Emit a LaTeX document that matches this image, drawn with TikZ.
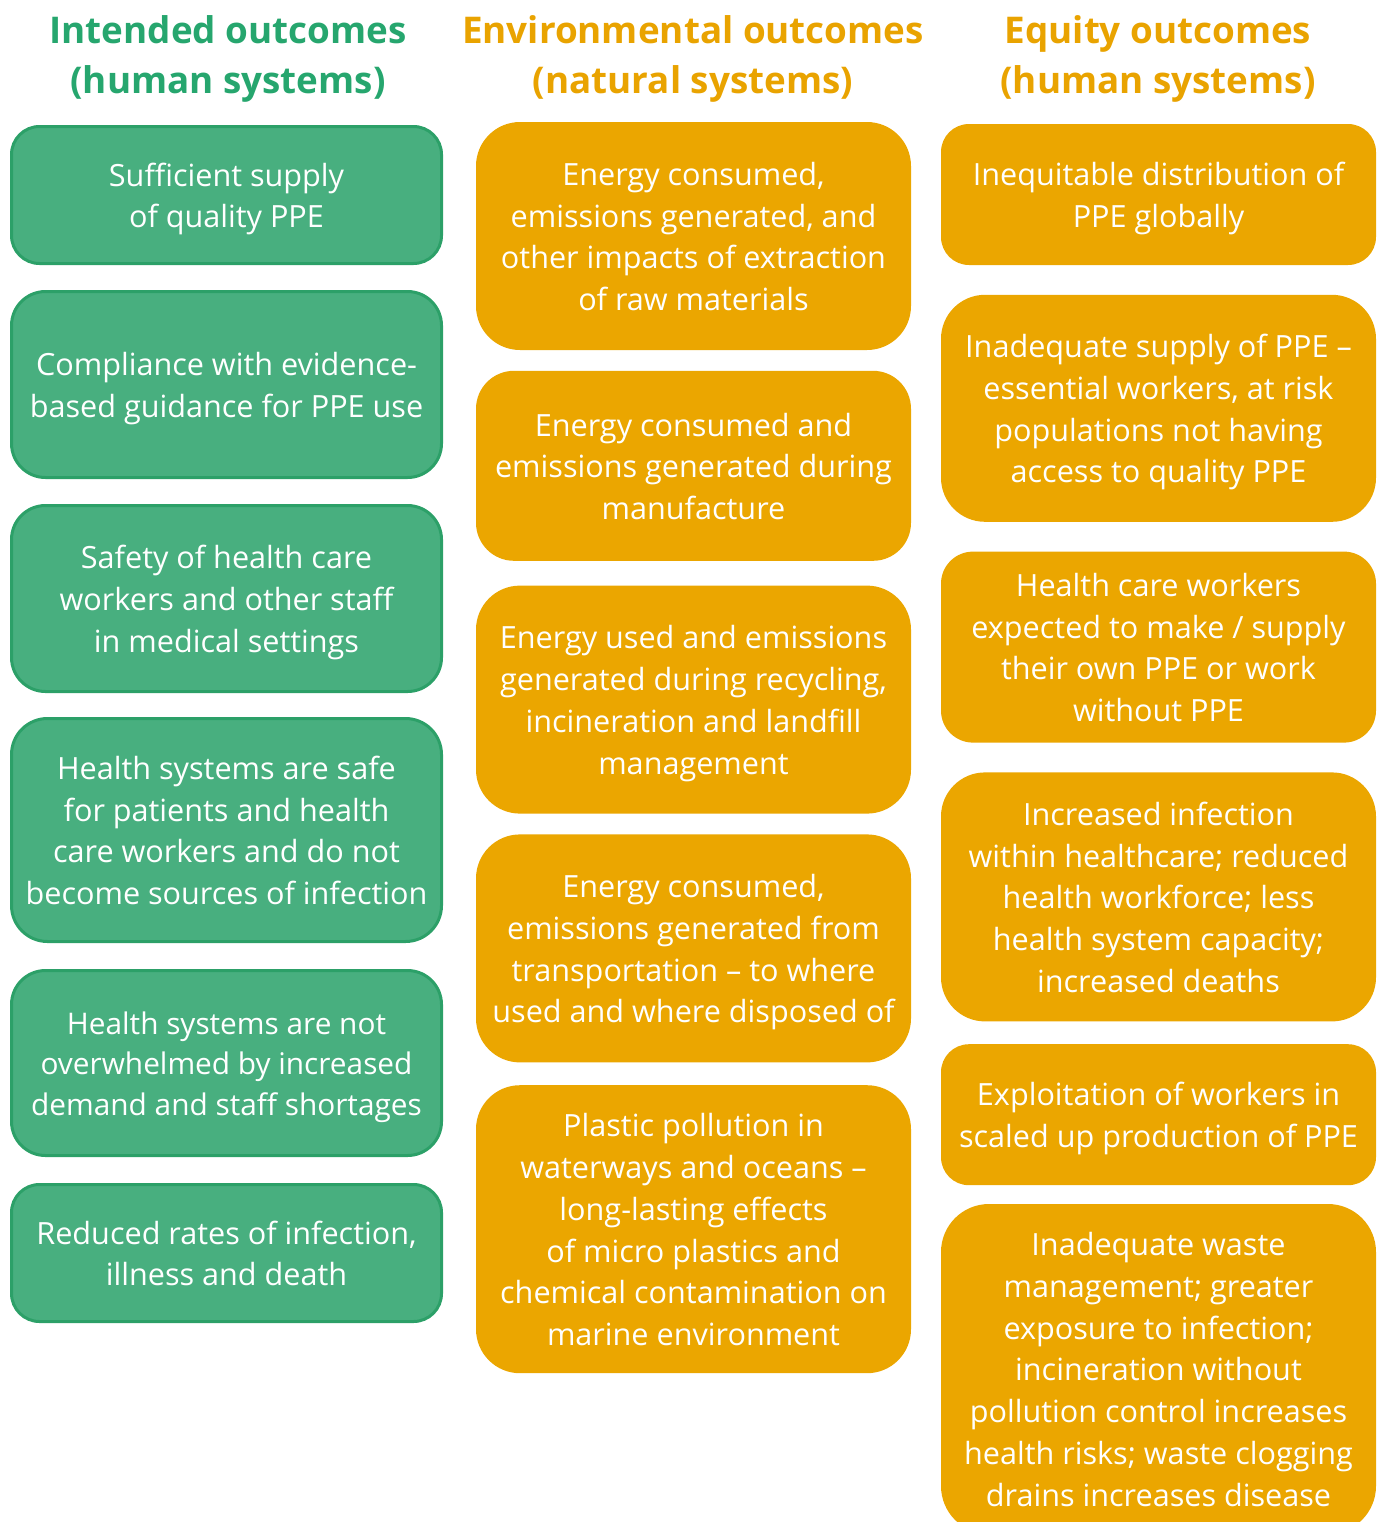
\documentclass[tikz,border=0pt]{standalone}
\usepackage{fontspec}
\setmainfont{Open Sans}
\usepackage{xcolor}
\usepackage{tikz}
\usetikzlibrary{positioning}
\definecolor{intgreen}{RGB}{72,175,127}
\definecolor{intgreenline}{RGB}{44,160,104}
\definecolor{headgreen}{RGB}{38,166,110}
\definecolor{envorange}{RGB}{235,166,0}
\definecolor{headorange}{RGB}{233,163,0}
% struts for line-box style centering
\newcommand{\linetop}{\rule{0pt}{1.07em}}
\newcommand{\linebot}{\rule[-0.29em]{0pt}{0pt}}

\begin{document}
\begin{tikzpicture}[
  x=0.5pt, y=-0.5pt,
  node distance=12.5pt,
  colhead/.style={align=center, inner sep=0pt, font=\fontsize{18.4}{25}\selectfont\bfseries},
  boxtext/.style={align=center, inner sep=0pt, text=white, font=\fontsize{15.3}{20.85}\selectfont},
  gbox/.style={boxtext, rectangle, rounded corners=#1, draw=intgreenline, line width=1.5pt,
               fill=intgreen, minimum width=215pt},
  gbox/.default=14pt,
  obox/.style={boxtext, rectangle, rounded corners=#1, fill=envorange, minimum width=217.5pt},
  obox/.default=22pt
]
\useasboundingbox (0,0) rectangle (1381,1522);
\clip (0,0) rectangle (1381,1522);

% column headings
\node[colhead, text=headgreen] (h1) at (228,59) {Intended outcomes\\(human systems)};
\node[colhead, text=headorange] (h2) at (693,59) {Environmental outcomes\\(natural systems)};
\node[colhead, text=headorange] (h3) at (1158,59) {Equity outcomes\\(human systems)};

% intended outcomes
\node[gbox, minimum height=68.5pt] (g1) at (226.5,195) {\linetop Sufficient supply\\of quality PPE\linebot};
\node[gbox=17pt, minimum height=93pt, below=12.5pt of g1] (g2) {\linetop Compliance with evidence-\\based guidance for PPE use\linebot};
\node[gbox=17pt, minimum height=93pt, below=12.5pt of g2] (g3) {\linetop Safety of health care\\workers and other staff\\in medical settings\linebot};
\node[gbox=18pt, minimum height=111.5pt, below=12pt of g3] (g4) {\linetop Health systems are safe\\for patients and health\\care workers and do not\\become sources of infection\linebot};
\node[gbox=17pt, minimum height=92.5pt, below=13pt of g4, font=\fontsize{14.9}{20.3}\selectfont] (g5) {\linetop Health systems are not\\overwhelmed by increased\\demand and staff shortages\linebot};
\node[gbox, minimum height=68.5pt, below=13pt of g5] (g6) {\linetop Reduced rates of infection,\\illness and death\linebot};

% environmental outcomes
\node[obox, minimum height=114pt] (o1) at (693.5,236) {\linetop Energy consumed,\\emissions generated, and\\other impacts of extraction\\of raw materials\linebot};
\node[obox=19pt, minimum height=95pt, below=10pt of o1] (o2) {\linetop Energy consumed and\\emissions generated during\\manufacture\linebot};
\node[obox, minimum height=114pt, below=12pt of o2] (o3) {\linetop Energy used and emissions\\generated during recycling,\\incineration and landfill\\management\linebot};
\node[obox, minimum height=114pt, below=10pt of o3] (o4) {\linetop Energy consumed,\\emissions generated from\\transportation -- to where\\used and where disposed of\linebot};
\node[obox, minimum height=144pt, below=11pt of o4] (o5) {\linetop Plastic pollution in\\waterways and oceans --\\long-lasting effects\\of micro plastics and\\chemical contamination on\\marine environment\linebot};

% equity outcomes
\node[obox=14pt, minimum height=70.5pt] (e1) at (1158.5,194.5) {\linetop Inequitable distribution of\\PPE globally\linebot};
\node[obox, minimum height=113.5pt, below=14.5pt of e1] (e2) {\linetop Inadequate supply of PPE --\\essential workers, at risk\\populations not having\\access to quality PPE\linebot};
\node[obox=16pt, minimum height=95.5pt, below=14.5pt of e2] (e3) {\linetop Health care workers\\expected to make / supply\\their own PPE or work\\without PPE\linebot};
\node[obox, minimum height=124.5pt, below=14.5pt of e3] (e4) {\linetop Increased infection\\within healthcare; reduced\\health workforce; less\\health system capacity;\\increased deaths\linebot};
\node[obox=14pt, minimum height=70.5pt, below=11pt of e4] (e5) {\linetop Exploitation of workers in\\scaled up production of PPE\linebot};
\node[obox=24pt, minimum height=165pt, below=9pt of e5] (e6) {\linetop Inadequate waste\\management; greater\\exposure to infection;\\incineration without\\pollution control increases\\health risks; waste clogging\\drains increases disease\linebot};

\end{tikzpicture}
\end{document}
